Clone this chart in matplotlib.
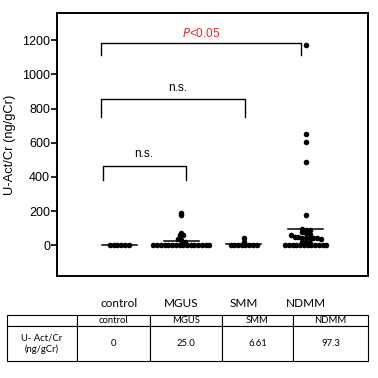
import numpy as np
import matplotlib.pyplot as plt

groups = ['control', 'MGUS', 'SMM', 'NDMM']
control = [0, 0, 0, 0, 0, 0]
mgus = [190, 178, 70, 62, 58, 35, 28, 20] + [0] * 16
smm = [45, 22] + [0] * 8
ndmm = [1175, 650, 605, 490, 175, 98, 92, 90, 75, 70, 65, 62,
        50, 48, 45, 45, 42, 40, 40, 38, 20, 18, 15] + [0] * 12
means = [0, 25.0, 6.61, 97.3]
mean_labels = ['0', '25.0', '6.61', '97.3']
yticks = [0, 200, 400, 600, 800, 1000, 1200]


def swarm_x(center, vals, step=0.06, bin_h=25):
    # spread points that share a row sideways, like a column scatter
    vals = np.asarray(vals, float)
    xs = np.full(len(vals), float(center))
    bins = np.floor(vals / bin_h + 0.5).astype(int)
    for b in np.unique(bins):
        idx = np.where(bins == b)[0]
        n = len(idx)
        xs[idx] = center + (np.arange(n) - (n - 1) / 2) * step
    return xs


fig = plt.figure(figsize=(3.78, 3.78), dpi=100)
ax = fig.add_axes([57 / 378, 1 - 276 / 378, 311 / 378, 263 / 378])

for i, vals in enumerate([control, mgus, smm, ndmm]):
    ax.scatter(swarm_x(i, vals), vals, s=16, color='black', zorder=3,
               linewidths=0)
    ax.plot([i - 0.28, i + 0.28], [means[i], means[i]], color='black',
            lw=1.1, zorder=4)

ax.set_xlim(-1.0, 4.0)
ax.set_ylim(-180, 1360)
ax.set_yticks(yticks)
ax.set_yticklabels([str(t) for t in yticks], family='Liberation Sans',
                   fontsize=9)
ax.tick_params(axis='y', direction='out', length=4, width=1.2, pad=1)
ax.set_xticks(range(len(groups)))
ax.set_xticklabels(groups, family='Lato', fontsize=8.5)
ax.tick_params(axis='x', length=0, pad=16)
for sp in ax.spines.values():
    sp.set_linewidth(1.4)
ax.set_ylabel('U-Act/Cr (ng/gCr)', family='Liberation Sans', fontsize=9.3,
              labelpad=4)

# significance brackets
brackets = [(-0.29, 2.92, 1182, 1112, 1.31, 1241, 'P<0.05', '#e8262b'),
            (-0.29, 2.03, 859, 753, 0.94, 918, 'n.s.', 'black'),
            (-0.26, 1.08, 465, 382, 0.40, 535, 'n.s.', 'black')]
for x0, x1, ytop, ylow, tx, ty, txt, col in brackets:
    ax.plot([x0, x0, x1, x1], [ylow, ytop, ytop, ylow], color='black', lw=1)
    if txt.startswith('P'):
        ax.text(tx, ty, r'$\it{P}$<0.05', color=col, ha='center',
                va='center', family='Liberation Sans', fontsize=8.5)
    else:
        ax.text(tx, ty, txt, color=col, ha='center', va='center',
                family='Liberation Sans', fontsize=8.5)

# summary table
tax = fig.add_axes([7 / 378, 1 - 361 / 378, 361 / 378, 46 / 378])
tax.axis('off')
cells = [[''] + groups, ['U- Act/Cr\n(ng/gCr)'] + mean_labels]
widths = np.array([70, 73, 72, 71, 75]) / 361
tbl = tax.table(cellText=cells, colWidths=list(widths), cellLoc='center',
                bbox=[0, 0, 1, 1])
tbl.auto_set_font_size(False)
for (r, c), cell in tbl.get_celld().items():
    cell.set_height(11 / 46 if r == 0 else 35 / 46)
    cell.set_linewidth(0.8)
    cell.get_text().set_fontsize(6.8)
    cell.get_text().set_family('Lato')

fig.savefig('out.png', dpi=100)
